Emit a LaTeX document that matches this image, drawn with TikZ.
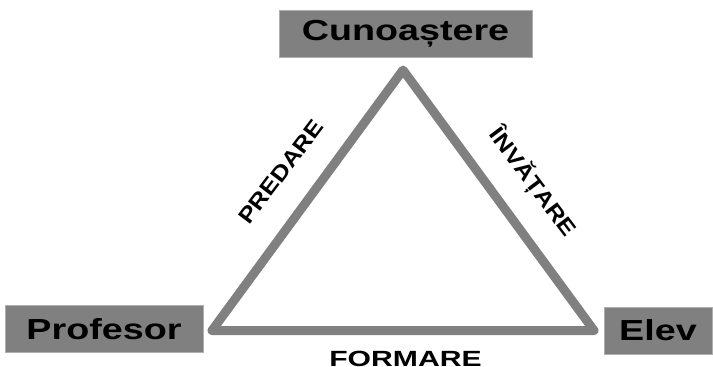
\documentclass[tikz,border=0pt]{standalone}
\usepackage{fontspec}
\setmainfont{Liberation Sans}
\usepackage{xcolor}
\usetikzlibrary{positioning}
\definecolor{boxgray}{RGB}{128,128,128}
\definecolor{edgegray}{RGB}{175,175,175}
\newcommand{\wide}[2]{\scalebox{#1}[1]{#2}}
\tikzset{
    corner/.style={draw=edgegray, fill=boxgray, inner sep=0pt, minimum height=47pt, font=\fontsize{29}{32}\selectfont\bfseries},
    side/.style={inner sep=0pt, font=\fontsize{22}{24}\selectfont\bfseries},
    edge/.style={draw=boxgray, line width=9pt, line join=round}
}
\begin{document}
\begin{tikzpicture}[x=1pt, y=-1pt]
    \useasboundingbox (0,0) rectangle (713,367);
    % Corners
    \node[corner, minimum width=253pt] (Cun) at (405.5,33.5) {\wide{1.3}{Cunoaștere}};
    \node[corner, minimum width=198pt] (Prof) at (104,329) {\wide{1.3}{Profesor}};
    \node[corner, minimum width=108pt] (Elev) at (658,330.5) {\wide{1.3}{Elev}};

    % Triangle
    \coordinate (Top) at (403,70);
    \coordinate (Left) at (212,330.5);
    \coordinate (Right) at (594,330.5);
    \draw[edge] (Top) -- (Right) -- (Left) -- cycle;

    % Side labels
    \node[side, rotate=53] (Pred) at (281,172) {\wide{1.15}{PREDARE}};
    \node[side, rotate=-53] (Inv) at (533,182) {\wide{1.15}{ÎNVĂȚARE}};
    \node[side] (Form) at (405.5,359) {\wide{1.37}{FORMARE}};
\end{tikzpicture}
\end{document}
